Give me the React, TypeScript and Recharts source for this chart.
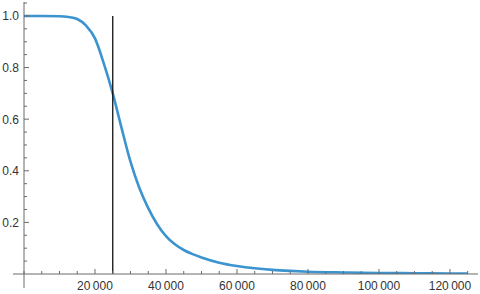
import React from "react";
import { LineChart, Line, XAxis, YAxis, ReferenceLine } from "recharts";

const xValues = [0, 5000, 10000, 12500, 15000, 17500, 20000, 22500, 25000, 27500, 30000, 32500, 35000, 37500, 40000, 42500, 45000, 47500, 50000, 55000, 60000, 65000, 70000, 75000, 80000, 90000, 100000, 110000, 120000, 125000];
const yValues = [1.0, 1.0, 0.999, 0.996, 0.988, 0.962, 0.913, 0.815, 0.7, 0.565, 0.435, 0.333, 0.255, 0.193, 0.147, 0.115, 0.093, 0.077, 0.064, 0.044, 0.031, 0.022, 0.016, 0.012, 0.009, 0.006, 0.004, 0.003, 0.002, 0.002];

const xTicks = [0, 5000, 10000, 15000, 20000, 25000, 30000, 35000, 40000, 45000, 50000, 55000, 60000, 65000, 70000, 75000, 80000, 85000, 90000, 95000, 100000, 105000, 110000, 115000, 120000, 125000];
const xLabelTicks = [20000, 40000, 60000, 80000, 100000, 120000];
const yTicks = [0.05, 0.1, 0.15, 0.2, 0.25, 0.3, 0.35, 0.4, 0.45, 0.5, 0.55, 0.6, 0.65, 0.7, 0.75, 0.8, 0.85, 0.9, 0.95, 1.0, 1.05];
const yLabelTicks = [0.2, 0.4, 0.6, 0.8, 1.0];

const markerX = 25000;
const xDomain: [number, number] = [0, 127900];
const yDomain: [number, number] = [0, 1.054];
const xLeftExt = -3100;
const yBottomExt = -0.054;

const data = xValues.map((x, i) => ({ x, y: yValues[i] }));

const AXIS = "#6b6b6b";
const LABEL = "#333333";
const FONT = "'Liberation Sans', Arial, sans-serif";

const fmtX = (v: number) => {
  const s = String(v);
  return s.slice(0, s.length - 3) + "\u2009" + s.slice(s.length - 3);
};

const isIn = (arr: number[], v: number) => arr.some((a) => Math.abs(a - v) < 1e-9);

const XTick = (props: any) => {
  const { x, y, payload } = props;
  const v = payload.value;
  const major = isIn(xLabelTicks, v);
  return (
    <g>
      <line x1={x} x2={x} y1={y} y2={y - (major ? 5 : 3)} stroke={AXIS} strokeWidth={1} />
      {major && (
        <text x={x} y={y + 16} textAnchor="middle" fontSize={12} fontFamily={FONT} fill={LABEL}>
          {fmtX(v)}
        </text>
      )}
    </g>
  );
};

const YTick = (props: any) => {
  const { x, y, payload } = props;
  const v = payload.value;
  const major = isIn(yLabelTicks, v);
  return (
    <g>
      <line x1={x} x2={x + (major ? 5 : 3)} y1={y} y2={y} stroke={AXIS} strokeWidth={1} />
      {major && (
        <text x={x - 5} y={y + 4.5} textAnchor="end" fontSize={12} fontFamily={FONT} fill={LABEL}>
          {v.toFixed(1)}
        </text>
      )}
    </g>
  );
};

export default function App() {
  return (
    <div style={{ position: "absolute", left: 0, top: 0, background: "#fff" }}>
      <LineChart width={480} height={294} data={data} margin={{ top: 2, right: 2, bottom: 0, left: 0 }}>
        <XAxis
          dataKey="x"
          type="number"
          domain={xDomain}
          ticks={xTicks}
          allowDataOverflow
          height={20}
          tickSize={0}
          tickMargin={0}
          tickLine={false}
          axisLine={{ stroke: AXIS }}
          tick={<XTick />}
          interval={0}
        />
        <YAxis
          type="number"
          domain={yDomain}
          ticks={yTicks}
          allowDataOverflow
          width={24}
          tickSize={0}
          tickMargin={0}
          tickLine={false}
          axisLine={{ stroke: AXIS }}
          tick={<YTick />}
          interval={0}
        />
        <ReferenceLine
          segment={[{ x: xLeftExt, y: 0 }, { x: 0, y: 0 }]}
          ifOverflow="visible"
          stroke={AXIS}
          strokeWidth={1}
        />
        <ReferenceLine
          segment={[{ x: 0, y: yBottomExt }, { x: 0, y: 0 }]}
          ifOverflow="visible"
          stroke={AXIS}
          strokeWidth={1}
        />
        <Line
          dataKey="y"
          type="monotone"
          stroke="#3b94cf"
          strokeWidth={2.6}
          dot={false}
          isAnimationActive={false}
        />
        <ReferenceLine
          segment={[{ x: markerX, y: 0 }, { x: markerX, y: 1 }]}
          stroke="#111"
          strokeWidth={1.3}
        />
      </LineChart>
    </div>
  );
}
